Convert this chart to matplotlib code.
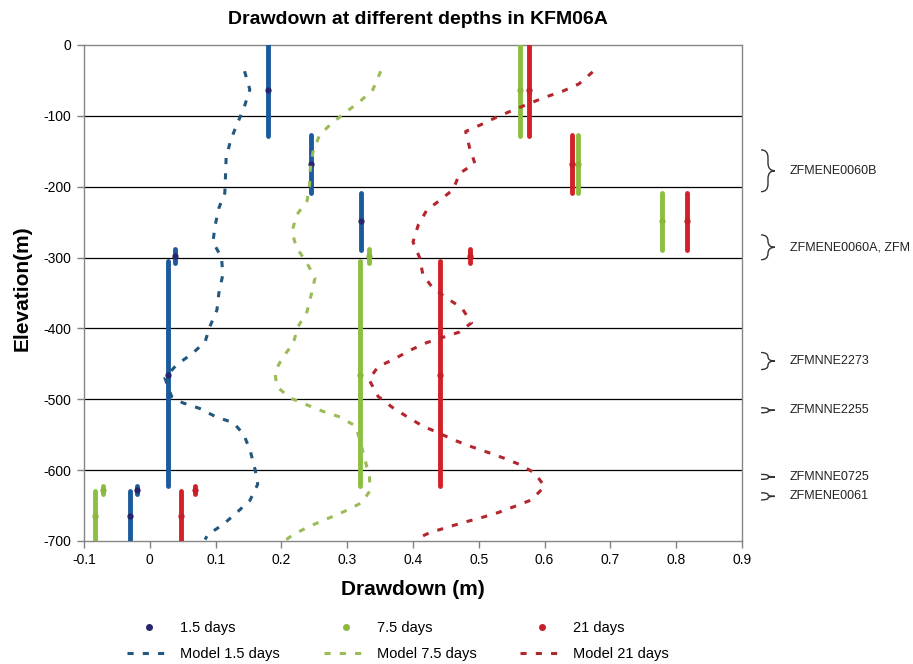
import matplotlib
matplotlib.use("Agg")
import matplotlib.pyplot as plt
import matplotlib.transforms as mtransforms
from matplotlib.path import Path
from matplotlib.patches import PathPatch

plt.rcParams["font.family"] = ["Liberation Sans", "DejaVu Sans"]
plt.rcParams["axes.unicode_minus"] = False

# measured sections (elevation, m)
sec_top = [0, -127, -209, -288, -305, -630, -622]
sec_bot = [-128, -209, -289, -307, -623, -700, -634]
sec_mid = [-63, -168, -248, -298, -466, -665, -628]

# measured drawdown per section (m)
dd_15 = [0.179, 0.245, 0.321, 0.038, 0.027, -0.030, -0.020]
dd_75 = [0.562, 0.650, 0.778, 0.333, 0.319, -0.084, -0.071]
dd_21 = [0.576, 0.641, 0.816, 0.486, 0.441, 0.047, 0.068]

# model curves
mod15_x = [0.144, 0.152, 0.143, 0.132, 0.123, 0.116, 0.115, 0.114, 0.105, 0.099,
           0.096, 0.109, 0.111, 0.105, 0.102, 0.091, 0.084, 0.064, 0.041, 0.023,
           0.033, 0.050, 0.076, 0.101, 0.127, 0.143, 0.153, 0.160, 0.164, 0.152,
           0.132, 0.111, 0.088, 0.084]
mod15_z = [-37, -63, -89, -113, -134, -159, -186, -209, -230, -256,
           -278, -300, -324, -350, -374, -398, -419, -436, -451, -470,
           -496, -505, -513, -525, -533, -550, -574, -599, -620, -643,
           -660, -677, -691, -698]

mod75_x = [0.351, 0.339, 0.319, 0.299, 0.277, 0.258, 0.248, 0.243, 0.243, 0.239,
           0.223, 0.216, 0.223, 0.239, 0.251, 0.246, 0.239, 0.225, 0.218, 0.202,
           0.190, 0.193, 0.213, 0.239, 0.263, 0.289, 0.313, 0.320, 0.327, 0.334,
           0.334, 0.322, 0.294, 0.266, 0.241, 0.218, 0.206]
mod75_z = [-37, -63, -80, -94, -110, -127, -151, -181, -197, -220,
           -240, -264, -286, -308, -329, -350, -376, -398, -421, -441,
           -461, -482, -498, -508, -517, -525, -538, -560, -585, -611,
           -630, -646, -659, -670, -680, -691, -699]

mod21_x = [0.673, 0.652, 0.628, 0.603, 0.578, 0.552, 0.529, 0.502, 0.480, 0.486,
           0.494, 0.471, 0.461, 0.441, 0.421, 0.408, 0.400, 0.410, 0.415, 0.430,
           0.451, 0.474, 0.489, 0.471, 0.444, 0.421, 0.395, 0.372, 0.347, 0.333,
           0.347, 0.368, 0.390, 0.415, 0.438, 0.461, 0.486, 0.514, 0.538, 0.562,
           0.585, 0.600, 0.580, 0.555, 0.529, 0.504, 0.476, 0.451, 0.426, 0.403]
mod21_z = [-38, -55, -65, -73, -82, -92, -101, -113, -122, -145,
           -167, -181, -204, -219, -233, -254, -278, -300, -324, -343,
           -357, -371, -392, -405, -413, -420, -431, -443, -454, -472,
           -496, -511, -524, -538, -547, -557, -566, -575, -583, -592,
           -604, -623, -642, -651, -660, -667, -674, -681, -688, -698]

# deformation zones on the right
zone_names = ["ZFMENE0060B", "ZFMENE0060A, ZFM", "ZFMNNE2273",
              "ZFMNNE2255", "ZFMNNE0725", "ZFMENE0061"]
zone_top = [-148, -268, -434, -512, -606, -632]
zone_bot = [-207, -303, -458, -519, -613, -642]

xticks = [-0.1, 0, 0.1, 0.2, 0.3, 0.4, 0.5, 0.6, 0.7, 0.8, 0.9]
xtick_labels = ["-0.1", "0", "0.1", "0.2", "0.3", "0.4", "0.5", "0.6", "0.7", "0.8", "0.9"]
yticks = [0, -100, -200, -300, -400, -500, -600, -700]

BAR_COLORS = {"15": "#1b5a9c", "75": "#8cbf3f", "21": "#d42027"}
DOT_COLORS = {"15": "#26266e", "75": "#8db63c", "21": "#c61f2a"}
MODEL_COLORS = {"15": "#22577f", "75": "#9bbb59", "21": "#b3262e"}
DASH = (0, (2.0, 3.0))


def draw_brace(ax, top, bot, color="#333333"):
    trans = mtransforms.blended_transform_factory(ax.transAxes, ax.transData)
    x0, x1, x2 = 1.029, 1.0395, 1.050
    mid = (top + bot) / 2
    r = min(11, (top - bot) / 4)
    verts = [(x0, top), (x1, top), (x1, top - r),
             (x1, mid + r),
             (x1, mid), (x2, mid),
             (x1, mid), (x1, mid - r),
             (x1, bot + r),
             (x1, bot), (x0, bot)]
    codes = [Path.MOVETO, Path.CURVE3, Path.CURVE3,
             Path.LINETO,
             Path.CURVE3, Path.CURVE3,
             Path.CURVE3, Path.CURVE3,
             Path.LINETO,
             Path.CURVE3, Path.CURVE3]
    patch = PathPatch(Path(verts, codes), transform=trans, fill=False,
                      edgecolor=color, lw=1.0, clip_on=False)
    ax.add_patch(patch)


fig = plt.figure(figsize=(9.13, 6.64), dpi=100)
ax = fig.add_axes([84 / 913, 1 - 541 / 664, 658 / 913, 496 / 664])

ax.set_xlim(-0.1, 0.9)
ax.set_ylim(-700, 0)
for y in yticks[1:-1]:
    ax.axhline(y, color="black", lw=0.9, zorder=1)

for key, dd in (("15", dd_15), ("75", dd_75), ("21", dd_21)):
    ax.vlines(dd, sec_bot, sec_top, colors=BAR_COLORS[key], lw=3.5,
              capstyle="round", zorder=3)
    ax.plot(dd, sec_mid, ls="none", marker="o", ms=3.5,
            color=DOT_COLORS[key], zorder=4)

model_lines = {}
for key, mx, mz in (("15", mod15_x, mod15_z), ("75", mod75_x, mod75_z),
                    ("21", mod21_x, mod21_z)):
    (ln,) = ax.plot(mx, mz, color=MODEL_COLORS[key], lw=2.2, ls=DASH,
                    dash_capstyle="butt", zorder=5)
    model_lines[key] = ln

ax.set_xticks(xticks)
ax.set_xticklabels(xtick_labels)
ax.set_yticks(yticks)
ax.tick_params(axis="both", direction="out", length=5, width=1,
               color="#808080", labelsize=10, pad=4)
for s in ax.spines.values():
    s.set_color("#868686")
    s.set_linewidth(1.0)

ax.set_xlabel("Drawdown (m)", fontsize=15, fontweight="bold")
ax.xaxis.set_label_coords(0.5, -0.078)
ax.set_ylabel("Elevation(m)", fontsize=15, fontweight="bold", va="center")
ax.yaxis.set_label_coords(-0.094, 0.51)

fig.text(417.5 / 913, 1 - 20 / 664, "Drawdown at different depths in KFM06A",
         fontsize=14, fontweight="bold", ha="center", va="center")

# zone labels
trans = mtransforms.blended_transform_factory(ax.transAxes, ax.transData)
for name, top, bot in zip(zone_names, zone_top, zone_bot):
    draw_brace(ax, top, bot)
    ax.text(1.073, (top + bot) / 2, name, transform=trans, fontsize=9,
            ha="left", va="center", color="#222222", clip_on=False)

# legend, three columns placed separately
col_x = [127, 324, 520]
labels = [("15", "1.5 days", "Model 1.5 days"),
          ("75", "7.5 days", "Model 7.5 days"),
          ("21", "21 days", "Model 21 days")]
for cx, (key, lab, mlab) in zip(col_x, labels):
    (dot,) = ax.plot([], [], ls="none", marker="o", ms=4, color=DOT_COLORS[key])
    fig.legend([dot, model_lines[key]], [lab, mlab], loc="upper left",
               bbox_to_anchor=(cx / 913, 1 - 621 / 664), frameon=False,
               fontsize=10.5, handlelength=2.95, handletextpad=0.7,
               borderpad=0, borderaxespad=0, labelspacing=0.85)

fig.savefig("out.png", dpi=100)
